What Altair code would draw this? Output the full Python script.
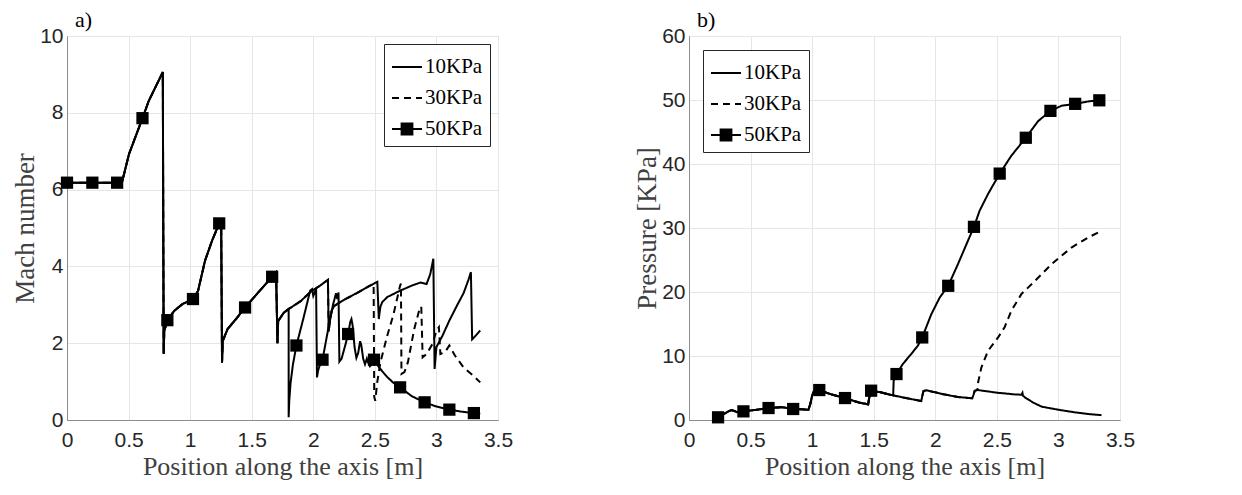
import altair as alt
import pandas as pd

SERIES = ["10KPa", "30KPa", "50KPa"]

# ---------------- Left panel: Mach number ----------------
L_TRUNK_X = [0, 0.206, 0.407, 0.446, 0.503, 0.613, 0.664, 0.778, 0.785, 0.79, 0.815, 0.87, 0.938,
             1.023, 1.064, 1.121, 1.178, 1.236, 1.252, 1.259, 1.265, 1.304, 1.373, 1.446, 1.555,
             1.666, 1.698, 1.709, 1.715, 1.762, 1.80]
L_TRUNK_Y = [6.18, 6.18, 6.18, 6.18, 6.92, 7.86, 8.31, 9.06, 1.72, 2.32, 2.6, 2.84, 3.02,
             3.15, 3.36, 4.15, 4.67, 5.12, 5.15, 1.5, 2.06, 2.37, 2.63, 2.93, 3.33,
             3.73, 3.84, 2.0, 2.58, 2.8, 2.89]
L_MID_X = [1.90, 1.975, 2.055, 2.119, 2.125, 2.135, 2.15, 2.17, 2.25, 2.35, 2.45]
L_MID_Y = [3.1, 3.33, 3.5, 3.65, 2.3, 2.6, 2.85, 2.97, 3.13, 3.3, 3.48]
L_10_TAIL_X = [2.52, 2.532, 2.545, 2.56, 2.6, 2.7, 2.8, 2.87, 2.92, 2.95, 2.975, 2.985, 3.0, 3.05,
               3.105, 3.17, 3.22, 3.26, 3.28, 3.29, 3.32, 3.356]
L_10_TAIL_Y = [3.6, 2.63, 2.95, 3.07, 3.2, 3.36, 3.5, 3.58, 3.54, 3.8, 4.2, 1.33, 1.9, 2.2,
               2.59, 3.0, 3.3, 3.65, 3.85, 2.1, 2.2, 2.33]
L_30_TAIL_X = [2.49, 2.495, 2.503, 2.51, 2.52, 2.545, 2.6, 2.648, 2.68, 2.705, 2.712, 2.716, 2.74,
               2.768, 2.82, 2.866, 2.877, 2.888, 2.92, 2.968, 3.0, 3.02, 3.032, 3.07, 3.105, 3.15,
               3.22, 3.29, 3.356]
L_30_TAIL_Y = [3.55, 0.6, 0.5, 0.7, 1.0, 1.5, 2.19, 2.71, 3.15, 3.5, 3.55, 1.2, 1.25,
               1.5, 2.37, 2.93, 2.95, 1.63, 1.72, 1.98, 2.33, 2.42, 1.72, 1.77, 1.94, 1.68,
               1.37, 1.18, 0.98]
L_50_TAIL_X = [1.80, 1.805, 1.815, 1.835, 1.863, 1.92, 1.975, 1.99, 2.0, 2.023, 2.03, 2.04, 2.055,
               2.075, 2.12, 2.16, 2.185, 2.195, 2.205, 2.212, 2.23, 2.26, 2.283, 2.3, 2.31, 2.32,
               2.335, 2.35, 2.365, 2.38, 2.39, 2.405, 2.42, 2.435, 2.445, 2.46, 2.475, 2.493,
               2.534, 2.6, 2.65, 2.705, 2.8, 2.904, 3.0, 3.105, 3.2, 3.304, 3.356]
L_50_TAIL_Y = [0.07, 0.5, 0.95, 1.45, 1.94, 2.65, 3.37, 3.41, 3.23, 3.41, 1.11, 1.3, 1.45,
               1.57, 2.35, 3.0, 3.3, 3.15, 3.32, 1.52, 1.6, 1.95, 2.24, 2.55, 2.63, 2.45,
               1.9, 1.62, 1.75, 2.05, 1.95, 1.6, 1.45, 1.6, 1.5, 1.4, 1.45, 1.57,
               1.37, 1.12, 0.97, 0.85, 0.62, 0.46, 0.35, 0.27, 0.22, 0.18, 0.16]
L_MARK_X = [0, 0.206, 0.407, 0.613, 0.815, 1.023, 1.236, 1.446, 1.666, 1.863, 2.075, 2.283,
            2.493, 2.705, 2.904, 3.105, 3.304]
L_MARK_Y = [6.18, 6.18, 6.18, 7.86, 2.6, 3.15, 5.12, 2.93, 3.73, 1.94, 1.57, 2.24,
            1.57, 0.85, 0.46, 0.27, 0.18]

# ---------------- Right panel: Pressure ----------------
P_TRUNK_X = [0.236, 0.28, 0.32, 0.345, 0.37, 0.39, 0.41, 0.443, 0.55, 0.642, 0.75, 0.849, 0.97,
             0.985, 1.0, 1.015, 1.035, 1.059, 1.155, 1.27, 1.384, 1.455, 1.462, 1.47, 1.479,
             1.543, 1.658]
P_TRUNK_Y = [0.42, 0.9, 1.35, 1.55, 1.4, 1.22, 1.28, 1.35, 1.6, 1.85, 2.0, 1.75, 1.6,
             2.5, 3.8, 4.5, 4.85, 4.64, 4.01, 3.39, 2.71, 2.45, 3.3, 4.0, 4.53,
             4.38, 3.85]
P_MID_X = [1.772, 1.886, 1.895, 1.904, 1.93, 2.068, 2.183, 2.3, 2.31, 2.32, 2.342]
P_MID_Y = [3.39, 2.97, 3.8, 4.53, 4.64, 4.01, 3.6, 3.39, 3.9, 4.55, 4.69]
P_10_TAIL_X = [2.5, 2.64, 2.70, 2.708, 2.712, 2.73, 2.797, 2.865, 3.0, 3.133, 3.24, 3.35]
P_10_TAIL_Y = [4.27, 4.01, 3.95, 4.25, 3.8, 3.5, 2.7, 2.08, 1.6, 1.2, 0.94, 0.75]
P_30_TAIL_X = [2.348, 2.374, 2.428, 2.51, 2.563, 2.618, 2.7, 2.808, 2.944, 3.106, 3.24, 3.35]
P_30_TAIL_Y = [5.9, 8.2, 10.8, 12.9, 14.5, 17.1, 19.7, 21.7, 24.35, 26.95, 28.5, 29.55]
P_50_TAIL_X = [1.662, 1.685, 1.736, 1.804, 1.858, 1.894, 1.967, 2.035, 2.105, 2.184, 2.265,
               2.314, 2.36, 2.428, 2.523, 2.618, 2.735, 2.835, 2.935, 3.025, 3.136, 3.25,
               3.332, 3.35]
P_50_TAIL_Y = [6.1, 7.18, 8.74, 10.3, 11.6, 12.9, 16.5, 19.1, 20.97, 24.35, 28.0,
               30.18, 32.7, 35.3, 38.5, 41.3, 44.1, 46.7, 48.3, 49.1, 49.4, 49.8,
               49.95, 50.0]
P_MARK_X = [0.236, 0.442, 0.646, 0.846, 1.058, 1.267, 1.479, 1.685, 1.894, 2.105, 2.314,
            2.523, 2.735, 2.935, 3.136, 3.332]
P_MARK_Y = [0.42, 1.35, 1.87, 1.72, 4.68, 3.43, 4.58, 7.18, 12.9, 20.97, 30.18,
            38.5, 44.1, 48.3, 49.4, 49.95]

X_TICKS = [0, 0.5, 1, 1.5, 2, 2.5, 3, 3.5]
MACH_TICKS = [0, 2, 4, 6, 8, 10]
P_TICKS = [0, 10, 20, 30, 40, 50, 60]


def frame(parts):
    rows = []
    for name, xs, ys in parts:
        for i, (x, y) in enumerate(zip(xs, ys)):
            rows.append({"series": name, "x": x, "y": y, "i": i})
    return pd.DataFrame(rows)


left_df = frame([
    ("10KPa", L_TRUNK_X + L_MID_X + L_10_TAIL_X, L_TRUNK_Y + L_MID_Y + L_10_TAIL_Y),
    ("30KPa", L_TRUNK_X + L_MID_X + L_30_TAIL_X, L_TRUNK_Y + L_MID_Y + L_30_TAIL_Y),
    ("50KPa", L_TRUNK_X + L_50_TAIL_X, L_TRUNK_Y + L_50_TAIL_Y),
])
left_marks = pd.DataFrame({"x": L_MARK_X, "y": L_MARK_Y})

right_df = frame([
    ("10KPa", P_TRUNK_X + P_MID_X + P_10_TAIL_X, P_TRUNK_Y + P_MID_Y + P_10_TAIL_Y),
    ("30KPa", P_TRUNK_X + P_MID_X + P_30_TAIL_X, P_TRUNK_Y + P_MID_Y + P_30_TAIL_Y),
    ("50KPa", P_TRUNK_X + P_50_TAIL_X, P_TRUNK_Y + P_50_TAIL_Y),
])
right_marks = pd.DataFrame({"x": P_MARK_X, "y": P_MARK_Y})

# legend glyphs: plain line, and line with a (hatched = solid) square
LINE_PATH = "M-1,0H1"
LINE_SQ_PATH = ("M-1,0H1M-0.36,-0.36H0.36V0.36H-0.36Z"
                "M-0.36,-0.24H0.36M-0.36,-0.12H0.36M-0.36,0.12H0.36M-0.36,0.24H0.36")

W, H = 431, 384
SERIF = "Liberation Serif"
SANS = "Liberation Sans"


def panel(df, marks, ytitle, ydomain, yticks, orient, leg_offset, label):
    dash_scale = alt.Scale(domain=SERIES, range=[[1, 0], [7, 5], [1, 0]])
    shape_scale = alt.Scale(domain=SERIES, range=[LINE_PATH, LINE_PATH, LINE_SQ_PATH])
    xenc = alt.X("x:Q", scale=alt.Scale(domain=[0, 3.5], nice=False, zero=False),
                 axis=alt.Axis(values=X_TICKS, format="~r", title="Position along the axis [m]",
                               labelPadding=9, titlePadding=3, labelFlush=False,
                               labelOverlap=False, titleFontSize=26))
    yenc = alt.Y("y:Q", scale=alt.Scale(domain=ydomain, nice=False, zero=False),
                 axis=alt.Axis(values=yticks, format="~r", title=ytitle,
                               labelPadding=4, titlePadding=0, labelFlush=False,
                               labelOverlap=False, titleFontSize=27))
    leg = alt.Legend(title=None, orient=orient, offset=leg_offset, symbolSize=900,
                     symbolStrokeWidth=2, symbolStrokeColor="black",
                     labelFont=SERIF, labelFontSize=21, labelColor="black", labelOffset=2,
                     strokeColor="#262626", fillColor="white", padding=7, rowPadding=5,
                     cornerRadius=0)
    lines = alt.Chart(df).mark_line(color="black", strokeWidth=2).encode(
        x=xenc, y=yenc, detail="series:N", order="i:Q",
        strokeDash=alt.StrokeDash("series:N", scale=dash_scale, legend=leg),
    )
    points = alt.Chart(marks).mark_point(shape="square", filled=True, size=150,
                                         color="black", opacity=1).encode(x="x:Q", y="y:Q")
    carrier = alt.Chart(df).transform_filter("false").mark_point(
        filled=False, color="black", strokeWidth=2, opacity=1
    ).encode(
        x="x:Q", y="y:Q",
        shape=alt.Shape("series:N", scale=shape_scale, legend=leg),
        strokeDash=alt.StrokeDash("series:N", scale=dash_scale, legend=leg),
    )
    return alt.layer(lines, points, carrier).properties(
        width=W, height=H,
        title=alt.TitleParams(label, anchor="start", frame="group", font=SERIF, fontSize=22,
                              fontWeight="normal", color="black", offset=-10, dx=8, dy=-3),
    )


left = panel(left_df, left_marks, "Mach number", [0, 10], MACH_TICKS, "top-right", 8, "a)")
right = panel(right_df, right_marks, "Pressure [KPa]", [0, 60], P_TICKS, "top-left", 14, "b)")

chart = alt.hconcat(left, right, spacing=119).properties(
    padding={"left": 3, "top": 0, "right": 0, "bottom": 0}
).configure(background="white").configure_axis(
    domainColor="#8c8c8c", gridColor="#e6e6e6", ticks=False,
    labelFont=SANS, labelFontSize=21, labelColor="#262626",
    titleFont=SERIF, titleColor="#404040", titleFontWeight="normal",
).configure_view(stroke="#8c8c8c")

chart.save("out.html", embed_options={"renderer": "svg", "actions": False})
